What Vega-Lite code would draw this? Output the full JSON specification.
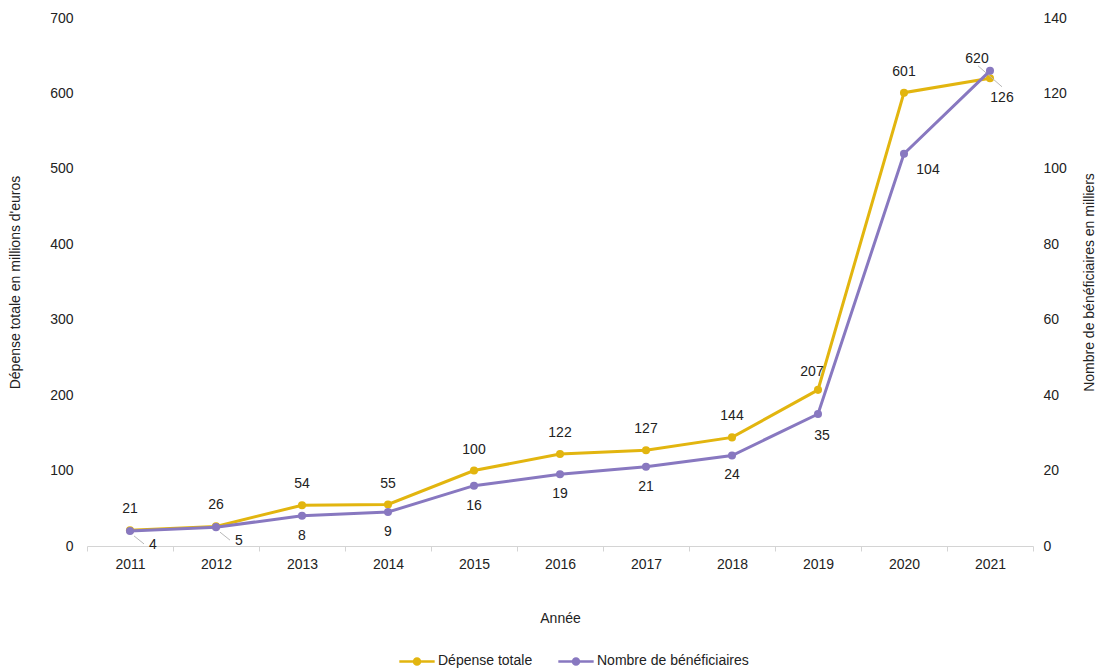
{
  "$schema": "https://vega.github.io/schema/vega-lite/v6.json",
  "autosize": {"type": "none"},
  "width": 946,
  "height": 528,
  "padding": {"left": 87, "top": 18, "right": 66, "bottom": 125},
  "background": "white",
  "config": {
    "font": "Liberation Sans",
    "view": {"stroke": null},
    "axis": {"labelFont": "Liberation Sans", "titleFont": "Liberation Sans", "labelFontSize": 14, "titleFontSize": 14, "labelColor": "#222", "titleColor": "#222", "titleFontWeight": "normal", "grid": false},
    "legend": {"labelFont": "Liberation Sans", "labelFontSize": 14, "labelColor": "#222"},
    "text": {"font": "Liberation Sans", "fontSize": 14, "color": "#222"}
  },
  "data": {
    "values": [
      {"annee": "2011", "serie": "Dépense totale", "valeur": 21},
      {"annee": "2012", "serie": "Dépense totale", "valeur": 26},
      {"annee": "2013", "serie": "Dépense totale", "valeur": 54},
      {"annee": "2014", "serie": "Dépense totale", "valeur": 55},
      {"annee": "2015", "serie": "Dépense totale", "valeur": 100},
      {"annee": "2016", "serie": "Dépense totale", "valeur": 122},
      {"annee": "2017", "serie": "Dépense totale", "valeur": 127},
      {"annee": "2018", "serie": "Dépense totale", "valeur": 144},
      {"annee": "2019", "serie": "Dépense totale", "valeur": 207},
      {"annee": "2020", "serie": "Dépense totale", "valeur": 601},
      {"annee": "2021", "serie": "Dépense totale", "valeur": 620},
      {"annee": "2011", "serie": "Nombre de bénéficiaires", "valeur": 4},
      {"annee": "2012", "serie": "Nombre de bénéficiaires", "valeur": 5},
      {"annee": "2013", "serie": "Nombre de bénéficiaires", "valeur": 8},
      {"annee": "2014", "serie": "Nombre de bénéficiaires", "valeur": 9},
      {"annee": "2015", "serie": "Nombre de bénéficiaires", "valeur": 16},
      {"annee": "2016", "serie": "Nombre de bénéficiaires", "valeur": 19},
      {"annee": "2017", "serie": "Nombre de bénéficiaires", "valeur": 21},
      {"annee": "2018", "serie": "Nombre de bénéficiaires", "valeur": 24},
      {"annee": "2019", "serie": "Nombre de bénéficiaires", "valeur": 35},
      {"annee": "2020", "serie": "Nombre de bénéficiaires", "valeur": 104},
      {"annee": "2021", "serie": "Nombre de bénéficiaires", "valeur": 126}
    ]
  },
  "encoding": {
    "x": {
      "field": "annee",
      "type": "ordinal",
      "scale": {"type": "band", "paddingInner": 0, "paddingOuter": 0},
      "axis": {
        "title": "Année",
        "labelAngle": 0,
        "domainColor": "#d4d4d4",
        "tickColor": "#d4d4d4",
        "tickBand": "extent",
        "tickSize": 5,
        "labelPadding": 6,
        "titlePadding": 40
      }
    }
  },
  "layer": [
    {
      "transform": [{"filter": "datum.serie === 'Dépense totale'"}],
      "encoding": {
        "y": {
          "field": "valeur",
          "type": "quantitative",
          "scale": {"domain": [0, 700]},
          "axis": {
            "orient": "left",
            "title": "Dépense totale en millions d'euros",
            "values": [0, 100, 200, 300, 400, 500, 600, 700],
            "domain": false,
            "ticks": false,
            "labelPadding": 14,
            "titlePadding": 27
          }
        }
      },
      "layer": [
        {
          "mark": {"type": "line", "strokeWidth": 3},
          "encoding": {
            "color": {
              "field": "serie",
              "type": "nominal",
              "scale": {"domain": ["Dépense totale", "Nombre de bénéficiaires"], "range": ["#E2B50F", "#8878C0"]},
              "legend": {
                "title": null,
                "orient": "none",
                "legendX": 311,
                "legendY": 624,
                "direction": "horizontal",
                "columnPadding": 20,
                "symbolType": "M -1 0 L 1 0 M -0.17 0 A 0.17 0.17 0 1 0 0.17 0 A 0.17 0.17 0 1 0 -0.17 0",
                "symbolSize": 1250,
                "symbolStrokeWidth": 2.5,
                "labelOffset": 2,
                "encode": {"symbols": {"update": {"fill": {"scale": "color", "field": "value"}}}}
              }
            }
          }
        },
        {
          "mark": {"type": "point", "filled": true, "size": 65, "opacity": 1, "color": "#E2B50F"}
        },
        {
          "transform": [{"filter": "datum.annee !== '2019' && datum.annee !== '2021'"}],
          "mark": {"type": "text", "dy": -21},
          "encoding": {"text": {"field": "valeur", "type": "quantitative"}}
        },
        {
          "transform": [{"filter": "datum.annee === '2019'"}],
          "mark": {"type": "text", "dx": -6, "dy": -18},
          "encoding": {"text": {"field": "valeur", "type": "quantitative"}}
        },
        {
          "transform": [{"filter": "datum.annee === '2021'"}],
          "mark": {"type": "text", "dx": -13, "dy": -19},
          "encoding": {"text": {"field": "valeur", "type": "quantitative"}}
        }
      ]
    },
    {
      "transform": [{"filter": "datum.serie === 'Nombre de bénéficiaires'"}],
      "encoding": {
        "y": {
          "field": "valeur",
          "type": "quantitative",
          "scale": {"domain": [0, 140]},
          "axis": {
            "orient": "right",
            "title": "Nombre de bénéficiaires en milliers",
            "values": [0, 20, 40, 60, 80, 100, 120, 140],
            "domain": false,
            "ticks": false,
            "labelPadding": 10,
            "titlePadding": 30,
            "titleAngle": 270
          }
        }
      },
      "layer": [
        {
          "transform": [{"filter": "datum.annee === '2011' || datum.annee === '2012'"}],
          "mark": {"type": "rule", "color": "#b8b8b8", "strokeWidth": 1, "xOffset": 4, "yOffset": 5, "x2Offset": 14, "y2Offset": 13},
          "encoding": {"x2": {"field": "annee"}, "y2": {"field": "valeur"}}
        },
        {
          "transform": [{"filter": "datum.annee === '2021'"}],
          "mark": {"type": "rule", "color": "#b8b8b8", "strokeWidth": 1, "xOffset": -12, "yOffset": -5, "x2Offset": 12, "y2Offset": 16},
          "encoding": {"x2": {"field": "annee"}, "y2": {"field": "valeur"}}
        },
        {
          "mark": {"type": "line", "strokeWidth": 3},
          "encoding": {"color": {"field": "serie", "type": "nominal"}}
        },
        {
          "mark": {"type": "point", "filled": true, "size": 65, "opacity": 1, "color": "#8878C0"}
        },
        {
          "transform": [{"filter": "datum.annee !== '2011' && datum.annee !== '2012' && datum.annee !== '2019' && datum.annee !== '2020' && datum.annee !== '2021'"}],
          "mark": {"type": "text", "dy": 20},
          "encoding": {"text": {"field": "valeur", "type": "quantitative"}}
        },
        {
          "transform": [{"filter": "datum.annee === '2011' || datum.annee === '2012'"}],
          "mark": {"type": "text", "dx": 23, "dy": 14},
          "encoding": {"text": {"field": "valeur", "type": "quantitative"}}
        },
        {
          "transform": [{"filter": "datum.annee === '2019'"}],
          "mark": {"type": "text", "dx": 4, "dy": 22},
          "encoding": {"text": {"field": "valeur", "type": "quantitative"}}
        },
        {
          "transform": [{"filter": "datum.annee === '2020'"}],
          "mark": {"type": "text", "dx": 24, "dy": 16},
          "encoding": {"text": {"field": "valeur", "type": "quantitative"}}
        },
        {
          "transform": [{"filter": "datum.annee === '2021'"}],
          "mark": {"type": "text", "dx": 12, "dy": 27},
          "encoding": {"text": {"field": "valeur", "type": "quantitative"}}
        }
      ]
    }
  ],
  "resolve": {"scale": {"y": "independent"}}
}
